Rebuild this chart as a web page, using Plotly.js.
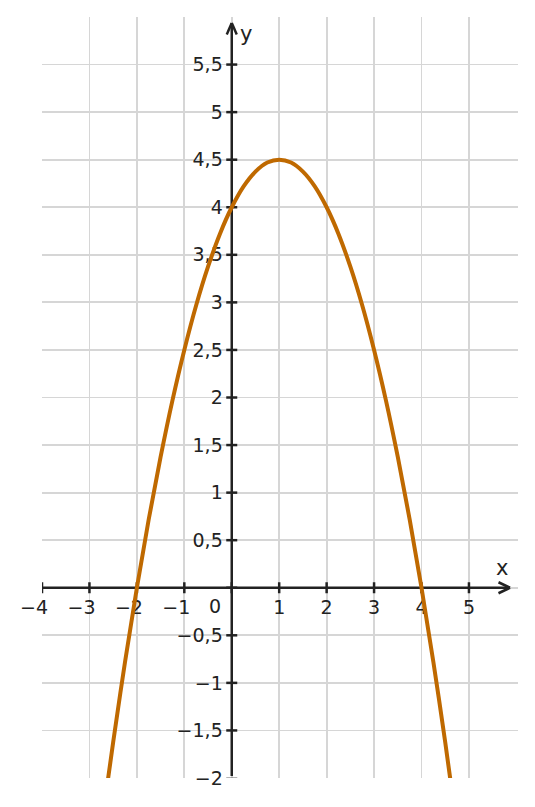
<!DOCTYPE html>
<html>
<head>
<meta charset="utf-8">
<script src="https://cdn.plot.ly/plotly-3.0.1.min.js"></script>
<style>html,body{margin:0;padding:0;background:#fff;}#chart{width:535px;height:807px;}</style>
</head>
<body>
<div id="chart"></div>
<script>
// Curve points
const curveX = [-2.65, -2.5, -2.25, -2, -1.75, -1.5, -1.25, -1, -0.75, -0.5, -0.25, 0, 0.25, 0.5, 0.75, 1, 1.25, 1.5, 1.75, 2, 2.25, 2.5, 2.75, 3, 3.25, 3.5, 3.75, 4, 4.25, 4.5, 4.7];
const curveY = [-2.16, -1.625, -0.78, 0, 0.72, 1.375, 1.97, 2.5, 2.97, 3.375, 3.72, 4, 4.22, 4.375, 4.47, 4.5, 4.47, 4.375, 4.22, 4, 3.72, 3.375, 2.97, 2.5, 1.97, 1.375, 0.72, 0, -0.78, -1.625, -2.35];

// Ticks and labels
const xTicks = [-4, -3, -2, -1, 0, 1, 2, 3, 4, 5];
const xTickLabels = ['−4', '−3', '−2', '−1', '0', '1', '2', '3', '4', '5'];
const yTicks = [-2, -1.5, -1, -0.5, 0, 0.5, 1, 1.5, 2, 2.5, 3, 3.5, 4, 4.5, 5, 5.5];
const yTickLabels = ['−2', '−1,5', '−1', '−0,5', '0', '0,5', '1', '1,5', '2', '2,5', '3', '3,5', '4', '4,5', '5', '5,5'];

const W = 535, H = 807;
const M = {l: 42, r: 17, t: 17, b: 29};
const xRange = [-4, 6.034];
const yRange = [-2, 6];
const pw = W - M.l - M.r, ph = H - M.t - M.b;
const kx = pw / (xRange[1] - xRange[0]);   // px per x unit
const ky = ph / (yRange[1] - yRange[0]);   // px per y unit
const dx = p => p / kx;
const dy = p => p / ky;

const ink = '#222222';
const fontFam = 'DejaVu Sans, sans-serif';

// x labels: negative labels keep digit centred on tick (minus hangs left)
const hidden = s => '<span style="color:rgba(0,0,0,0)">' + s + '</span>';
const xText = xTickLabels.map((t, i) => {
  if (xTicks[i] === 0) return '';
  if (t.startsWith('−')) return t + hidden('−');
  return t;
});
const yText = yTickLabels.map((t, i) => yTicks[i] === 0 ? '' : t);

const shapes = [];
const line = (x0, y0, x1, y1, w, c) => shapes.push({type: 'line', x0, y0, x1, y1, layer: 'between', line: {color: c || ink, width: w}});

// axes
const AW = 2.5;
const xTip = xRange[0] + dx(510 - M.l);
const yTip = yRange[1] - dy(23 - M.t);
line(xRange[0], 0, xTip, 0, AW);
line(0, yRange[0] + dy(2), 0, yTip, AW);
// arrow heads
line(xTip, 0, xTip - dx(11.5), dy(5.5), AW);
line(xTip, 0, xTip - dx(11.5), -dy(5.5), AW);
line(0, yTip, -dx(5), yTip - dy(11.5), AW);
line(0, yTip, dx(5), yTip - dy(11.5), AW);
// tick marks
xTicks.forEach(v => line(v, -dy(5.5), v, dy(5.5), AW));
yTicks.forEach(v => {
  if (v === yRange[0]) line(-dx(5.5), v, dx(5.5), v, 1, '#666');
  else line(-dx(5.5), v, dx(5.5), v, AW);
});

const trace = {
  x: curveX, y: curveY, type: 'scatter', mode: 'lines',
  line: {color: '#bf6900', width: 4, shape: 'spline', smoothing: 1},
  hoverinfo: 'skip', showlegend: false
};

const tickFont = {family: fontFam, size: 19, color: ink};
const layout = {
  width: W, height: H,
  margin: M,
  paper_bgcolor: '#ffffff', plot_bgcolor: '#ffffff',
  showlegend: false,
  xaxis: {
    range: xRange, tickvals: xTicks, ticktext: xText,
    showgrid: true, gridcolor: '#d6d6d6', gridwidth: 1.8,
    zeroline: false, showline: false, ticks: '',
    anchor: 'free', position: (0 - yRange[0]) / (yRange[1] - yRange[0]),
    layer: 'below traces', tickfont: tickFont, ticklabelstandoff: 6,
    fixedrange: true
  },
  yaxis: {
    range: yRange, tickvals: yTicks, ticktext: yText,
    showgrid: true, gridcolor: '#d6d6d6', gridwidth: 1.8,
    zeroline: false, showline: false, ticks: '',
    anchor: 'free', position: (0 - xRange[0]) / (xRange[1] - xRange[0]),
    layer: 'below traces', tickfont: tickFont, ticklabelstandoff: 9,
    fixedrange: true
  },
  shapes: shapes,
  annotations: [
    {x: 0, y: 0, text: '0', showarrow: false, xanchor: 'center', yanchor: 'middle',
     xshift: -17, yshift: -18.5, font: tickFont},
    {x: dx(502 - 231.8), y: dy(588 - 568), text: 'x', showarrow: false,
     xanchor: 'center', yanchor: 'middle', font: {family: fontFam, size: 21, color: ink}},
    {x: dx(246 - 231.8), y: dy(588 - 34), text: 'y', showarrow: false,
     xanchor: 'center', yanchor: 'middle', font: {family: fontFam, size: 21, color: ink}}
  ]
};

Plotly.newPlot('chart', [trace], layout, {staticPlot: true, displayModeBar: false});
</script>
</body>
</html>
